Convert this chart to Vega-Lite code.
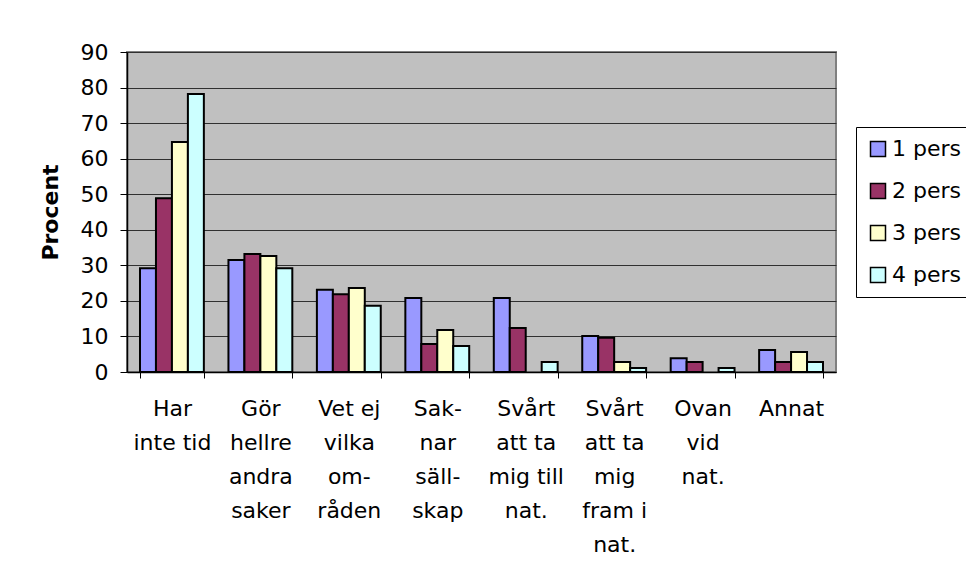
{
  "$schema": "https://vega.github.io/schema/vega-lite/v6.json",
  "width": 709,
  "height": 320,
  "autosize": {"type": "none"},
  "padding": {"left": 127, "top": 52, "right": 130, "bottom": 212},
  "background": "white",
  "config": {
    "font": "DejaVu Sans",
    "view": {"fill": "#C0C0C0", "stroke": "#808080", "strokeWidth": 2}
  },
  "data": {
    "values": [
      {"cat": "Har|inte tid", "grp": "1 pers", "val": 29.2},
      {"cat": "Har|inte tid", "grp": "2 pers", "val": 48.9},
      {"cat": "Har|inte tid", "grp": "3 pers", "val": 64.7},
      {"cat": "Har|inte tid", "grp": "4 pers", "val": 78.2},
      {"cat": "Gör|hellre|andra|saker", "grp": "1 pers", "val": 31.5},
      {"cat": "Gör|hellre|andra|saker", "grp": "2 pers", "val": 33.2},
      {"cat": "Gör|hellre|andra|saker", "grp": "3 pers", "val": 32.6},
      {"cat": "Gör|hellre|andra|saker", "grp": "4 pers", "val": 29.2},
      {"cat": "Vet ej|vilka|om-|råden", "grp": "1 pers", "val": 23.1},
      {"cat": "Vet ej|vilka|om-|råden", "grp": "2 pers", "val": 21.9},
      {"cat": "Vet ej|vilka|om-|råden", "grp": "3 pers", "val": 23.6},
      {"cat": "Vet ej|vilka|om-|råden", "grp": "4 pers", "val": 18.6},
      {"cat": "Sak-|nar|säll-|skap", "grp": "1 pers", "val": 20.8},
      {"cat": "Sak-|nar|säll-|skap", "grp": "2 pers", "val": 7.9},
      {"cat": "Sak-|nar|säll-|skap", "grp": "3 pers", "val": 11.8},
      {"cat": "Sak-|nar|säll-|skap", "grp": "4 pers", "val": 7.3},
      {"cat": "Svårt|att ta|mig till|nat.", "grp": "1 pers", "val": 20.8},
      {"cat": "Svårt|att ta|mig till|nat.", "grp": "2 pers", "val": 12.4},
      {"cat": "Svårt|att ta|mig till|nat.", "grp": "4 pers", "val": 2.8},
      {"cat": "Svårt|att ta|mig|fram i|nat.", "grp": "1 pers", "val": 10.1},
      {"cat": "Svårt|att ta|mig|fram i|nat.", "grp": "2 pers", "val": 9.6},
      {"cat": "Svårt|att ta|mig|fram i|nat.", "grp": "3 pers", "val": 2.8},
      {"cat": "Svårt|att ta|mig|fram i|nat.", "grp": "4 pers", "val": 1.1},
      {"cat": "Ovan|vid|nat.", "grp": "1 pers", "val": 3.9},
      {"cat": "Ovan|vid|nat.", "grp": "2 pers", "val": 2.8},
      {"cat": "Ovan|vid|nat.", "grp": "4 pers", "val": 1.1},
      {"cat": "Annat", "grp": "1 pers", "val": 6.2},
      {"cat": "Annat", "grp": "2 pers", "val": 2.8},
      {"cat": "Annat", "grp": "3 pers", "val": 5.6},
      {"cat": "Annat", "grp": "4 pers", "val": 2.8}
    ]
  },
  "mark": {"type": "bar", "stroke": "black", "strokeWidth": 2, "cornerRadius": 0},
  "encoding": {
    "x": {
      "field": "cat",
      "type": "nominal",
      "sort": null,
      "scale": {"paddingInner": 0.278, "paddingOuter": 0.147},
      "axis": {
        "title": null,
        "labelAngle": 0,
        "labelExpr": "split(datum.label, '|')",
        "labelFontSize": 22,
        "labelColor": "black",
        "labelLineHeight": 34,
        "labelPadding": 20,
        "labelBaseline": "top",
        "labelLimit": 0,
        "tickBand": "extent",
        "tickColor": "black",
        "tickSize": 6,
        "domainColor": "black",
        "domainWidth": 1.5
      }
    },
    "xOffset": {"field": "grp", "type": "nominal", "scale": {"domain": ["1 pers", "2 pers", "3 pers", "4 pers"], "paddingInner": 0, "paddingOuter": 0}},
    "y": {
      "field": "val",
      "type": "quantitative",
      "scale": {"domain": [0, 90], "nice": false},
      "axis": {
        "title": "Procent",
        "titleFontSize": 22,
        "titleFontWeight": "bold",
        "titleColor": "black",
        "titlePadding": 18,
        "values": [0, 10, 20, 30, 40, 50, 60, 70, 80, 90],
        "labelFontSize": 22,
        "labelColor": "black",
        "labelPadding": 12,
        "tickColor": "black",
        "tickSize": 7,
        "domainColor": "black",
        "domainWidth": 1.5,
        "grid": true,
        "gridColor": "#303030",
        "gridWidth": 1
      }
    },
    "color": {
      "field": "grp",
      "type": "nominal",
      "scale": {"domain": ["1 pers", "2 pers", "3 pers", "4 pers"], "range": ["#9999FF", "#993366", "#FFFFCC", "#CCFFFF"]},
      "legend": {
        "title": null,
        "orient": "none",
        "legendX": 729,
        "legendY": 75,
        "symbolType": "square",
        "symbolSize": 225,
        "symbolStrokeColor": "black",
        "symbolStrokeWidth": 1.5,
        "labelFontSize": 22,
        "labelColor": "black",
        "labelOffset": 3,
        "rowPadding": 20,
        "padding": 11,
        "strokeColor": "black",
        "fillColor": "white"
      }
    }
  }
}
